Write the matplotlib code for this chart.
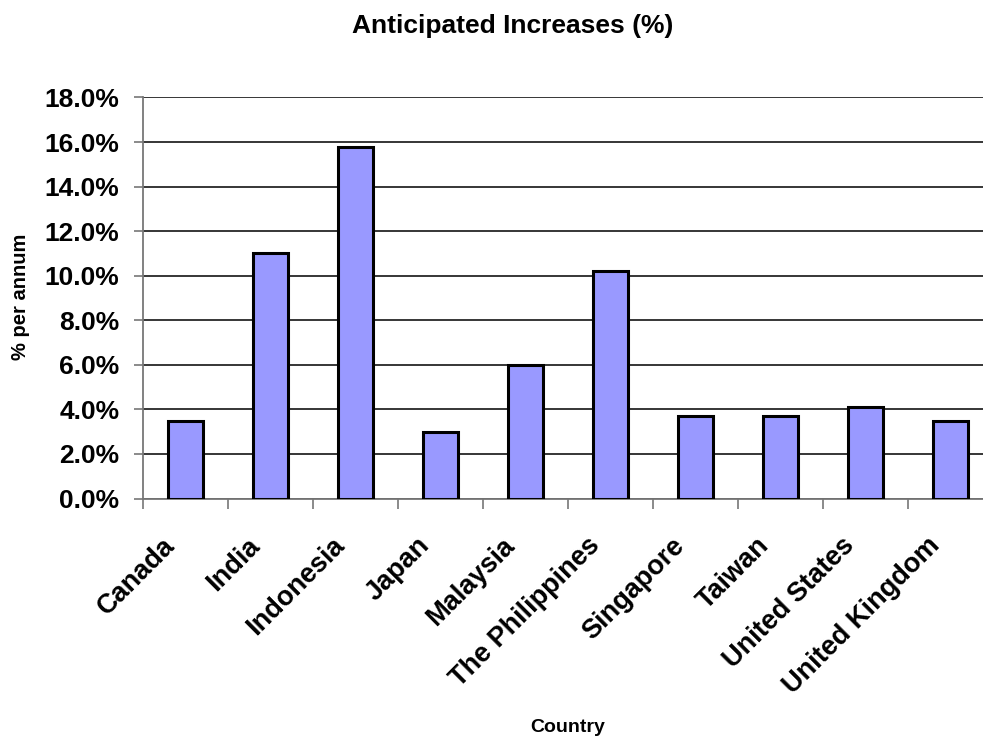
import matplotlib
matplotlib.use("Agg")
import matplotlib.pyplot as plt
import matplotlib.transforms as mtransforms
import numpy as np

plt.rcParams['font.family'] = ['Liberation Sans', 'DejaVu Sans']

countries = ["Canada", "India", "Indonesia", "Japan", "Malaysia",
             "The Philippines", "Singapore", "Taiwan", "United States",
             "United Kingdom"]
increases = [3.5, 11.0, 15.8, 3.0, 6.0, 10.2, 3.7, 3.7, 4.1, 3.5]
y_ticks = [0, 2, 4, 6, 8, 10, 12, 14, 16, 18]

fig = plt.figure(figsize=(9.83, 7.38), dpi=100)
# the plot area runs slightly past the right edge of the canvas
ax = fig.add_axes([0.1455, 0.3245, 0.8647, 0.5434])

x = np.arange(len(countries))
ax.bar(x, increases, width=0.42, color="#9999FF", edgecolor="black",
       linewidth=2.2, zorder=3)

ax.set_xlim(-0.5, len(countries) - 0.5)
ax.set_ylim(0, 18)
ax.set_yticks(y_ticks)
ax.set_yticklabels([f"{v:.1f}%" for v in y_ticks], fontsize=19,
                   fontweight="bold")
ax.yaxis.grid(True, color="black", linewidth=1.1, zorder=0)
ax.set_axisbelow(True)

# category boundaries carry the tick marks; names sit at centres
ax.set_xticks(np.arange(len(countries) + 1) - 0.5)
ax.set_xticklabels([])
ax.set_xticks(x, minor=True)
ax.set_xticklabels(countries, minor=True, rotation=45, ha="right",
                   va="top", rotation_mode="anchor", fontsize=19.5,
                   fontweight="bold")
ax.tick_params(axis="x", which="minor", length=0, pad=8)
ax.tick_params(axis="x", which="major", length=7, width=1.2, color="#777777",
               direction="out")
ax.tick_params(axis="y", length=6.5, width=1.2, color="#777777", pad=10.5)

shift = mtransforms.ScaledTranslation(-0.24, -0.23, fig.dpi_scale_trans)
for lbl in ax.get_xticklabels(minor=True):
    lbl.set_transform(lbl.get_transform() + shift)

for side in ("top", "right"):
    ax.spines[side].set_visible(False)
for side in ("left", "bottom"):
    ax.spines[side].set_color("#777777")
    ax.spines[side].set_linewidth(1.3)

fig.text(0.5214, 1 - 33 / 738, "Anticipated Increases (%)", ha="center",
         va="baseline", fontsize=19, fontweight="bold")
fig.text(0.578, 1 - 732 / 738, "Country", ha="center", va="baseline",
         fontsize=14, fontweight="bold")
fig.text(0.021, 0.598, "% per annum", ha="center", va="center", rotation=90,
         fontsize=14.5, fontweight="bold")

fig.savefig("out.png", dpi=100)
